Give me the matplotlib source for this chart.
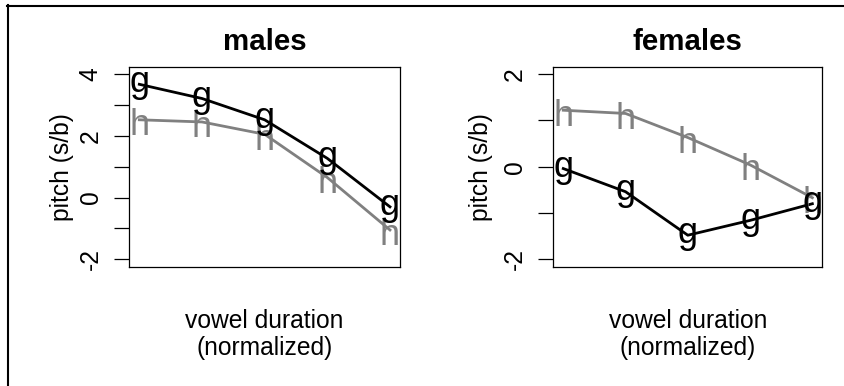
import numpy as np
import matplotlib
matplotlib.use("Agg")
import matplotlib.pyplot as plt
from matplotlib.lines import Line2D
from matplotlib.textpath import TextPath
from matplotlib.font_manager import FontProperties

plt.rcParams['font.family'] = ['Liberation Sans', 'DejaVu Sans']

# values
steps = [1, 2, 3, 4, 5]
males_g = [3.67, 3.21, 2.52, 1.27, -0.30]
males_h = [2.52, 2.45, 2.05, 0.65, -1.05]
females_g = [-0.04, -0.54, -1.48, -1.16, -0.80]
females_h = [1.22, 1.15, 0.63, 0.04, -0.67]

panels = [
    dict(title='males', g=males_g, h=males_h, ylim=(-2, 4),
         ticks=[-2, -1, 0, 1, 2, 3, 4], labels=['-2', '', '0', '', '2', '', '4'],
         rect=[129.3, 400.0], ylab_off=-67),
    dict(title='females', g=females_g, h=females_h, ylim=(-2, 2),
         ticks=[-2, -1, 0, 1, 2], labels=['-2', '', '0', '', '2'],
         rect=[553.3, 822.3], ylab_off=-72),
]

W, H = 844, 386
fig = plt.figure(figsize=(W / 100, H / 100), dpi=100)

FS = 17.7
GLYPH = 26
fp = FontProperties(family='Liberation Sans')


def glyph_offset(ch):
    # shift so the ink of the letter sits centred on the point (like R's pch chars)
    bb = TextPath((0, 0), ch, size=1, prop=fp).get_extents()
    return -(bb.y0 + bb.y1) / 2 * GLYPH - 1.6


def r_lim(a, b):
    d = (b - a) * 0.04
    return a - d, b + d


for p in panels:
    x0, x1 = p['rect']
    ax = fig.add_axes([x0 / W, 1 - 266.7 / H, (x1 - x0) / W, 200 / H])
    ax.set_xlim(r_lim(1, 5))
    ax.set_ylim(r_lim(*p['ylim']))
    ax.set_xticks([])
    ax.set_yticks(p['ticks'])
    ax.set_yticklabels(p['labels'], rotation=90, va='center', fontsize=FS)
    ax.tick_params(axis='y', direction='out', length=10.5, width=0.9, pad=8.6)
    for s in ax.spines.values():
        s.set_linewidth(0.9)

    ax.plot(steps, p['h'], color='#808080', lw=2.0, zorder=2)
    ax.plot(steps, p['g'], color='black', lw=2.0, zorder=2)
    for ch, vals, col in [('h', p['h'], '#808080'), ('g', p['g'], 'black')]:
        off = glyph_offset(ch)
        for xv, yv in zip(steps, vals):
            ax.annotate(ch, (xv, yv), xytext=(0, off), textcoords='offset points',
                        ha='center', va='baseline', fontsize=GLYPH, color=col,
                        zorder=3)

    ax.annotate(p['title'], (0.5, 1), xycoords='axes fraction',
                xytext=(0, 66.7 - 50), textcoords='offset pixels',
                ha='center', va='baseline', fontsize=FS * 1.2, fontweight='bold')
    ax.annotate('pitch (s/b)', (0, 0.5), xycoords='axes fraction',
                xytext=(p['ylab_off'], 0), textcoords='offset pixels',
                ha='center', va='center', rotation=90, fontsize=FS)
    ax.annotate('vowel duration', (0.5, 0), xycoords='axes fraction',
                xytext=(0, 266.7 - 328), textcoords='offset pixels',
                ha='center', va='baseline', fontsize=FS)
    ax.annotate('(normalized)', (0.5, 0), xycoords='axes fraction',
                xytext=(0, 266.7 - 355), textcoords='offset pixels',
                ha='center', va='baseline', fontsize=FS)

# outer frame (only top and left edges are visible in the reference)
fig.add_artist(Line2D([7 / W, 1], [1 - 6 / H] * 2, color='black', lw=1.5))
fig.add_artist(Line2D([8 / W] * 2, [0, 1 - 5 / H], color='black', lw=1.5))

fig.savefig('out.png', dpi=100)
